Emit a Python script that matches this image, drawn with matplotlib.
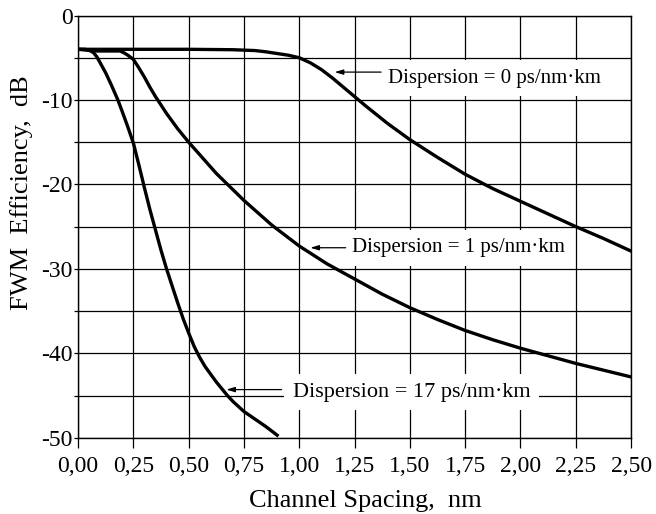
import matplotlib
matplotlib.use("Agg")
import matplotlib.pyplot as plt

plt.rcParams['font.family'] = ['Liberation Serif', 'DejaVu Serif']

# ---- data ----
x_d0 = [0.00, 0.50, 0.70, 0.80, 0.85, 0.90, 0.95, 1.00, 1.05, 1.10, 1.15, 1.20, 1.25, 1.30,
        1.40, 1.50, 1.625, 1.75, 1.875, 2.00, 2.125, 2.25, 2.375, 2.50]
y_d0 = [-4.0, -4.0, -4.05, -4.15, -4.3, -4.5, -4.7, -5.0, -5.6, -6.4, -7.4, -8.5, -9.6, -10.7,
        -12.8, -14.7, -16.8, -18.8, -20.5, -22.0, -23.5, -25.0, -26.4, -27.9]

x_d1 = [0.00, 0.08, 0.19, 0.21, 0.225, 0.25, 0.275, 0.30, 0.325, 0.35, 0.375, 0.40, 0.45,
        0.50, 0.625, 0.75, 0.875, 1.00, 1.125, 1.25, 1.375, 1.50, 1.625, 1.75, 1.875, 2.00,
        2.125, 2.25, 2.375, 2.50]
y_d1 = [-4.0, -4.2, -4.2, -4.45, -4.7, -5.2, -6.2, -7.3, -8.5, -9.6, -10.6, -11.6, -13.4,
        -15.0, -18.7, -21.9, -24.8, -27.3, -29.4, -31.2, -33.0, -34.6, -36.0, -37.3, -38.4,
        -39.4, -40.3, -41.2, -42.0, -42.8]

x_d17 = [0.00, 0.03, 0.05, 0.07, 0.085, 0.10, 0.125, 0.15, 0.18, 0.20, 0.225, 0.25, 0.275,
         0.30, 0.325, 0.35, 0.375, 0.40, 0.425, 0.45, 0.475, 0.50, 0.525, 0.55, 0.575, 0.60,
         0.625, 0.65, 0.675, 0.70, 0.725, 0.75, 0.80, 0.85, 0.90]
y_d17 = [-4.0, -4.0, -4.1, -4.4, -4.9, -5.6, -6.8, -8.2, -10.0, -11.4, -13.2, -15.1, -17.7,
         -20.4, -23.0, -25.4, -27.8, -30.0, -32.0, -34.0, -35.9, -37.6, -39.2, -40.5, -41.6,
         -42.5, -43.4, -44.2, -45.0, -45.7, -46.3, -46.9, -47.8, -48.7, -49.7]

labels = ["Dispersion = 0 ps/nm\u00b7km", "Dispersion = 1 ps/nm\u00b7km", "Dispersion = 17 ps/nm\u00b7km"]
label_sizes = [15, 15, 16]
# arrow tip, arrow tail, text anchor (left, centre)
arrow_tips = [(1.16, -6.7), (1.05, -27.5), (0.67, -44.3)]
arrow_tails = [(1.37, -6.7), (1.21, -27.5), (0.92, -44.3)]
text_pos = [(1.40, -7.4), (1.24, -27.5), (0.97, -44.6)]

x_ticks = [0.0, 0.25, 0.5, 0.75, 1.0, 1.25, 1.5, 1.75, 2.0, 2.25, 2.5]
x_ticklabels = ["0,00", "0,25", "0,50", "0,75", "1,00", "1,25", "1,50", "1,75", "2,00", "2,25", "2,50"]
y_ticks = [0, -10, -20, -30, -40, -50]
y_ticklabels = ["0", "-10", "-20", "-30", "-40", "-50"]
y_minor = [-5, -15, -25, -35, -45]

# ---- figure ----
fig = plt.figure(figsize=(6.56, 5.14), dpi=100)
ax = fig.add_axes([0.119, 0.1484, 0.843, 0.8214])

for xs, ys in [(x_d0, y_d0), (x_d1, y_d1), (x_d17, y_d17)]:
    ax.plot(xs, ys, color='black', lw=2.4, zorder=5, solid_joinstyle='round')

ax.set_xlim(0, 2.5)
ax.set_ylim(-50, 0)
ax.set_xticks(x_ticks)
ax.set_xticklabels(x_ticklabels, fontsize=17)
ax.set_yticks(y_ticks)
ax.set_yticklabels(y_ticklabels, fontsize=17)
ax.set_yticks(y_minor, minor=True)
ax.grid(True, which='both', color='black', lw=0.9)
ax.set_axisbelow(True)
ax.tick_params(axis='x', which='major', direction='out', length=7, width=0.9, pad=6.5)
ax.tick_params(axis='y', which='both', direction='out', length=3, width=0.9, pad=1)
for s in ax.spines.values():
    s.set_linewidth(1.0)
    s.set_color('black')

ax.set_xlabel("Channel Spacing,  nm", fontsize=19)
ax.xaxis.set_label_coords(0.52, -0.125)
ax.set_ylabel("FWM  Efficiency,  dB", fontsize=19)
ax.yaxis.set_label_coords(-0.082, 0.58)

for lab, fs, tip, tail, tp in zip(labels, label_sizes, arrow_tips, arrow_tails, text_pos):
    ax.text(tp[0], tp[1], lab, fontsize=fs, ha='left', va='center', zorder=3,
            bbox=dict(facecolor='white', edgecolor='none', pad=6))
    ax.annotate('', xy=tip, xytext=tail, zorder=6,
                arrowprops=dict(arrowstyle='-|>,head_length=0.5,head_width=0.15',
                                color='black', lw=0.9, shrinkA=0, shrinkB=0))

fig.savefig("out.png", dpi=100)
